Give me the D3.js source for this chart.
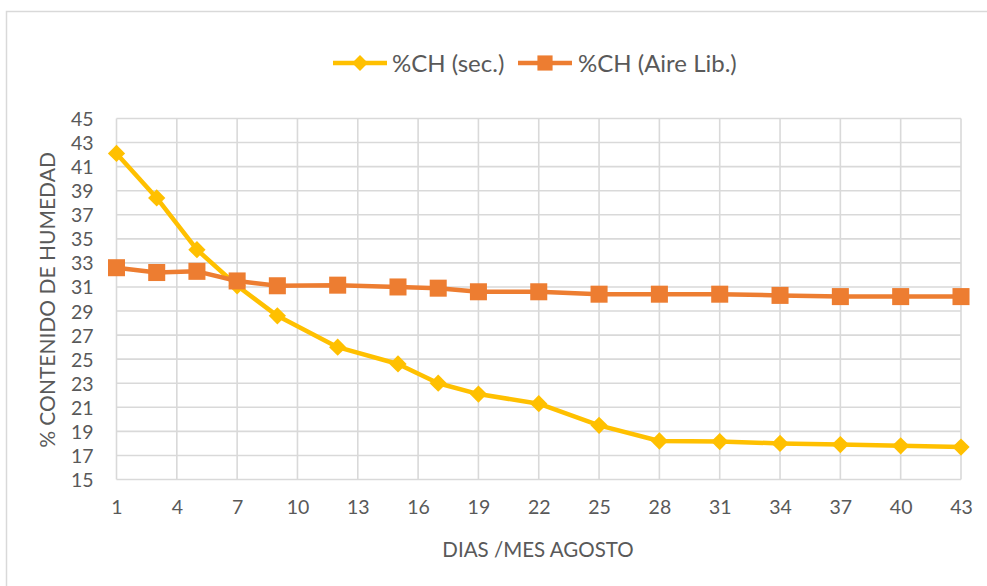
<!DOCTYPE html>
<html>
<head>
<meta charset="utf-8">
<script src="https://cdn.jsdelivr.net/npm/d3@7"></script>
<style>
  html, body { margin: 0; padding: 0; background: #fff; }
  svg { display: block; font-family: Lato, "Open Sans", sans-serif; }
</style>
</head>
<body>
<svg id="chart" width="987" height="586"></svg>
<script>
// Days of August on which moisture content was measured
const dias = [1, 3, 5, 7, 9, 12, 15, 17, 19, 22, 25, 28, 31, 34, 37, 40, 43];
// Moisture content (%) - kiln/sheltered drying
const chSec = [42.1, 38.4, 34.1, 31.1, 28.6, 26.0, 24.6, 23.0, 22.1, 21.3, 19.5, 18.2, 18.15, 18.0, 17.9, 17.8, 17.7];
// Moisture content (%) - open air drying
const chAire = [32.6, 32.2, 32.3, 31.5, 31.1, 31.15, 31.0, 30.9, 30.6, 30.6, 30.4, 30.4, 30.4, 30.3, 30.2, 30.2, 30.2];
// Axis ticks
const xTicks = [1, 4, 7, 10, 13, 16, 19, 22, 25, 28, 31, 34, 37, 40, 43];
const yTicks = [15, 17, 19, 21, 23, 25, 27, 29, 31, 33, 35, 37, 39, 41, 43, 45];
const seriesNames = ["%CH (sec.)", "%CH (Aire Lib.)"];
const seriesColors = ["#FFC000", "#ED7D31"];

const svg = d3.select("#chart");
const textColor = "#595959";
const gridColor = "#D9D9D9";
const font = "Lato, 'Open Sans', sans-serif";

// outer chart frame
svg.append("rect")
  .attr("x", 6.5).attr("y", 11.5)
  .attr("width", 990).attr("height", 590)
  .attr("fill", "none").attr("stroke", gridColor).attr("stroke-width", 1.5);

const x = d3.scaleLinear().domain([1, 43]).range([116.5, 961]);
const y = d3.scaleLinear().domain([15, 45]).range([479.5, 118.5]);

// gridlines
const grid = svg.append("g");
grid.selectAll("line.h").data(yTicks).join("line")
  .attr("x1", x(1)).attr("x2", x(43))
  .attr("y1", d => y(d)).attr("y2", d => y(d))
  .attr("stroke", gridColor).attr("stroke-width", 1.6);
grid.selectAll("line.v").data(xTicks).join("line")
  .attr("y1", y(15)).attr("y2", y(45))
  .attr("x1", d => x(d)).attr("x2", d => x(d))
  .attr("stroke", gridColor).attr("stroke-width", 1.6);

// axes (labels only; lines are the gridlines)
const yAxis = d3.axisLeft(y).tickValues(yTicks).tickSize(0).tickPadding(0);
const gy = svg.append("g").attr("transform", `translate(${x(1) - 23},0)`).call(yAxis);
gy.select(".domain").remove();
gy.selectAll("text").attr("fill", textColor).attr("font-size", 19.5)
  .attr("font-family", font).attr("dy", "0.36em");

const xAxis = d3.axisBottom(x).tickValues(xTicks).tickSize(0).tickPadding(0);
const gx = svg.append("g").attr("transform", `translate(0,${y(15) + 21})`).call(xAxis);
gx.select(".domain").remove();
gx.selectAll("text").attr("fill", textColor).attr("font-size", 19.5)
  .attr("font-family", font).attr("dy", "0.71em");

// axis titles
svg.append("text")
  .attr("x", 538).attr("y", 557)
  .attr("text-anchor", "middle").attr("fill", textColor)
  .attr("font-size", 20.5).text("DIAS /MES AGOSTO");
svg.append("text")
  .attr("transform", "translate(55,300) rotate(-90)")
  .attr("text-anchor", "middle").attr("fill", textColor)
  .attr("font-size", 21).text("%  CONTENIDO DE HUMEDAD");

// series
const series = [chSec, chAire];
const line = d3.line().x((d, i) => x(dias[i])).y(d => y(d));
const diamond = d3.symbol().type(d3.symbolDiamond2).size(190);
const square = d3.symbol().type(d3.symbolSquare).size(290);
const shapes = [diamond, square];

series.forEach((vals, s) => {
  const g = svg.append("g");
  g.append("path").datum(vals)
    .attr("d", line).attr("fill", "none")
    .attr("stroke", seriesColors[s]).attr("stroke-width", 4.5)
    .attr("stroke-linejoin", "round");
  g.selectAll("path.m").data(vals).join("path")
    .attr("class", "m")
    .attr("transform", (d, i) => `translate(${x(dias[i])},${y(d)})`)
    .attr("d", shapes[s]())
    .attr("fill", seriesColors[s]);
});

// legend
const legend = [
  { lx: 333, tx: 392 },
  { lx: 518, tx: 578 }
];
legend.forEach((p, s) => {
  const g = svg.append("g");
  g.append("line").attr("x1", p.lx).attr("x2", p.lx + 54)
    .attr("y1", 63).attr("y2", 63)
    .attr("stroke", seriesColors[s]).attr("stroke-width", 4.5);
  g.append("path")
    .attr("transform", `translate(${p.lx + 27},63)`)
    .attr("d", s === 0 ? d3.symbol().type(d3.symbolDiamond2).size(160)() : d3.symbol().type(d3.symbolSquare).size(230)())
    .attr("fill", seriesColors[s]);
  g.append("text").attr("x", p.tx).attr("y", 63).attr("dy", "0.36em")
    .attr("fill", textColor).attr("font-size", 24).attr("font-family", font)
    .text(seriesNames[s]);
});
</script>
</body>
</html>
